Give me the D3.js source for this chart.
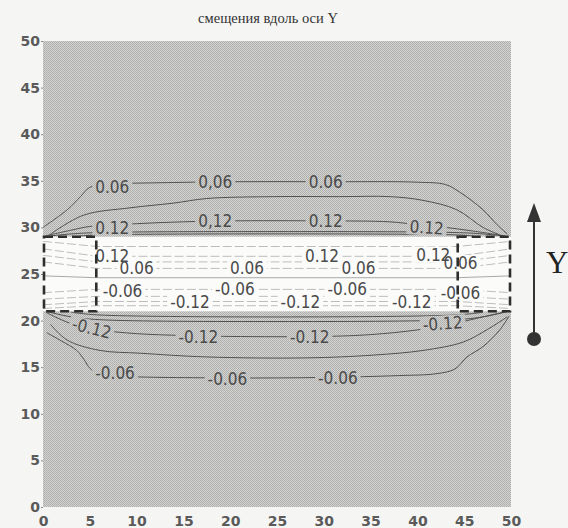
<!DOCTYPE html>
<html>
<head>
<meta charset="utf-8">
<script src="https://cdnjs.cloudflare.com/ajax/libs/d3/7.8.5/d3.min.js"></script>
<style>
  body { margin: 0; background: #f5f5f3; }
  svg { display: block; }
</style>
</head>
<body>
<script>
// ticks on both axes
var xTicks = [0, 5, 10, 15, 20, 25, 30, 35, 40, 45, 50];
var yTicks = [0, 5, 10, 15, 20, 25, 30, 35, 40, 45, 50];

// the white band and the two dashed boxes at its ends
var bandY = [21, 29];
var boxX = [[0, 5.8], [44.2, 50]];

// contour lines outside the band, [x, y]
var top06 = [[0, 30.0], [2.6, 31.9], [4.0, 33.3], [5.0, 34.3], [7, 34.7], [10, 34.75], [20, 34.9], [30, 34.9], [40, 34.85], [43, 34.6], [44.5, 33.8], [47, 31.9], [48.5, 30.3], [49.6, 29.3]];
var top09 = [[0.7, 29.2], [4.3, 31.3], [9.3, 32.1], [13.9, 32.6], [17.5, 33.1], [24.6, 33.3], [31.7, 33.3], [37.1, 33.3], [40.6, 32.9], [44.2, 31.9], [47, 30.0], [48.8, 29.2]];
var top12 = [[0.3, 29.1], [3, 29.7], [5, 30.1], [10, 30.4], [15, 30.6], [20, 30.7], [30, 30.7], [37, 30.6], [40, 30.3], [43, 30.0], [46, 29.6], [49.3, 29.1]];
var top15 = [[0.5, 29.05], [3, 29.3], [6, 29.45], [25, 29.55], [44, 29.45], [47, 29.3], [49.5, 29.05]];
var top18 = [[4, 29.08], [6, 29.2], [44, 29.2], [46, 29.08]];
var bot15 = [[0.5, 20.95], [3, 20.4], [6, 20.1], [25, 19.9], [44, 20.1], [47, 20.4], [49.5, 20.95]];
var bot18 = [[3, 20.9], [6, 20.6], [44, 20.6], [47, 20.9]];
var bot12 = [[0.3, 20.9], [1.5, 20.3], [3.5, 19.5], [6, 19.0], [10, 18.6], [15, 18.4], [20, 18.3], [30, 18.3], [35, 18.5], [40, 19.0], [44, 19.7], [47, 20.4], [49.5, 20.95]];
var bot09 = [[0.8, 19.6], [2.6, 17.9], [6.1, 16.8], [10.4, 16.5], [17.5, 16.1], [28.2, 16.0], [35.3, 16.3], [40.6, 16.8], [44.9, 17.7], [47.4, 19.0], [49.6, 20.4]];
var bot06 = [[0.4, 18.7], [2.0, 17.8], [3.6, 16.8], [4.4, 15.8], [5.0, 14.9], [6.0, 14.3], [8, 14.05], [20, 13.85], [30, 13.9], [38, 14.1], [42, 14.3], [44, 14.8], [45.3, 16.1], [47, 17.2], [48.8, 19.0], [49.8, 20.5]];

// light lines inside the band: y at x = 0 and x = 50, and y between the boxes
var bandLineY0 = [28.5, 27.7, 27.0, 26.3, 24.8, 23.0, 22.3, 21.7, 21.3];
var bandLineYm = [27.95, 26.9, 26.3, 25.6, 24.6, 23.35, 22.6, 22.05, 21.6];

// contour labels
var labelText = ["0.06", "0,06", "0.06",
                 "0.12", "0,12", "0.12", "0.12",
                 "0.12", "0.06", "0.06", "0.12", "0.06", "0.12", "0.06",
                 "-0.06", "-0.06", "-0.06", "-0.06",
                 "-0.12", "-0.12", "-0.12",
                 "-0.12", "-0.12", "-0.12", "-0.12",
                 "-0.06", "-0.06", "-0.06"];
var labelX = [7.4, 18.4, 30.2,
              7.4, 18.4, 30.2, 41.0,
              7.4, 10.0, 21.8, 29.8, 33.7, 41.7, 44.6,
              8.5, 20.5, 32.5, 44.6,
              15.7, 27.5, 39.4,
              5.2, 16.6, 28.5, 42.7,
              7.7, 19.7, 31.5];
var labelY = [34.3, 34.9, 34.9,
              29.9, 30.7, 30.7, 30.0,
              26.9, 25.7, 25.7, 26.9, 25.7, 27.1, 26.2,
              23.2, 23.4, 23.4, 23.0,
              22.0, 22.0, 22.0,
              19.2, 18.3, 18.3, 19.7,
              14.4, 13.8, 13.9];
var labelRot = [0, 0, 0,
                0, 0, 0, 4,
                0, 0, 0, 0, 0, 0, 0,
                0, 0, 0, 0,
                0, 0, 0,
                14, 0, 0, -4,
                0, 0, 0];

var W = 568, H = 528;
var m = {left: 43, top: 41, right: 57, bottom: 21};

var x = d3.scaleLinear().domain([0, 50]).range([m.left, W - m.right]);
var y = d3.scaleLinear().domain([0, 50]).range([H - m.bottom, m.top]);

var svg = d3.select("body").append("svg").attr("width", W).attr("height", H);
var defs = svg.append("defs");

// halftone look of the scanned grey fill
var pat = defs.append("pattern").attr("id", "tone").attr("patternUnits", "userSpaceOnUse")
  .attr("width", 2).attr("height", 2);
pat.append("rect").attr("width", 2).attr("height", 2).attr("fill", "#d4d4d2");
pat.append("rect").attr("width", 1).attr("height", 1).attr("fill", "#acacaa");
pat.append("rect").attr("x", 1).attr("y", 1).attr("width", 1).attr("height", 1).attr("fill", "#b2b2b0");

// title
svg.append("text").attr("x", 268).attr("y", 23).attr("text-anchor", "middle")
  .style("font-family", "Liberation Serif, serif").style("font-size", "14.5px").style("fill", "#333")
  .text("смещения вдоль оси Y");

// grey field and the white band
svg.append("rect").attr("x", x(0)).attr("y", y(50)).attr("width", x(50) - x(0)).attr("height", y(0) - y(50))
  .attr("fill", "url(#tone)");
svg.append("rect").attr("x", x(0)).attr("y", y(bandY[1])).attr("width", x(50) - x(0)).attr("height", y(bandY[0]) - y(bandY[1]))
  .attr("fill", "#fbfbfa");

// axes
var axisFont = function(g) {
  g.select(".domain").remove();
  g.selectAll(".tick line").attr("stroke", "#888");
  g.selectAll(".tick text").style("font-family", "DejaVu Sans, sans-serif").style("font-weight", "bold")
    .style("font-size", "14px").style("fill", "#5a5a5a");
};
svg.append("g").attr("transform", "translate(" + x(0) + ",0)")
  .call(d3.axisLeft(y).tickValues(yTicks).tickSize(2).tickPadding(1))
  .call(axisFont);
svg.append("g").attr("transform", "translate(0," + y(0) + ")")
  .call(d3.axisBottom(x).tickValues(xTicks).tickSize(0).tickPadding(9))
  .call(axisFont);

// labels first, so their boxes can cut the lines
var labG = svg.append("g");
var labels = labG.selectAll("text").data(labelText).enter().append("text")
  .attr("transform", function(d, i) {
    return "translate(" + x(labelX[i]) + "," + y(labelY[i]) + ") rotate(" + labelRot[i] + ")";
  })
  .attr("text-anchor", "middle").attr("dy", "0.36em")
  .style("font-family", "DejaVu Sans Condensed, DejaVu Sans, sans-serif").style("font-size", "17px")
  .style("fill", "#4a4a4a")
  .text(function(d) { return d; });

var mask = defs.append("mask").attr("id", "cut").attr("maskUnits", "userSpaceOnUse")
  .attr("x", 0).attr("y", 0).attr("width", W).attr("height", H);
mask.append("rect").attr("width", W).attr("height", H).attr("fill", "white");
labels.each(function(d, i) {
  var b = this.getBBox();
  mask.append("rect").attr("transform", d3.select(this).attr("transform"))
    .attr("x", b.x - 3).attr("y", b.y + 2).attr("width", b.width + 6).attr("height", b.height - 4)
    .attr("fill", "black");
});

var line = d3.line().x(function(d) { return x(d[0]); }).y(function(d) { return y(d[1]); })
  .curve(d3.curveCatmullRom.alpha(0.5));

var lineG = svg.insert("g", function() { return labG.node(); }).attr("mask", "url(#cut)");

// band lines, fanned inside the end boxes
var bandLines = bandLineY0.map(function(v, i) {
  var c = bandLineYm[i];
  return [[0, v], [boxX[0][1], c], [25, c], [boxX[1][0], c], [50, v]];
});
lineG.selectAll(".band").data(bandLines).enter().append("path")
  .attr("d", d3.line().x(function(d) { return x(d[0]); }).y(function(d) { return y(d[1]); }))
  .attr("fill", "none").attr("stroke", function(d, i) { return i == 4 ? "#a8a8a8" : "#bdbdbd"; })
  .attr("stroke-width", 1).attr("stroke-dasharray", function(d, i) { return i == 4 ? null : "9,3"; });

// contours in the grey part
var outer = [top06, top09, top12, top15, top18, bot15, bot18, bot12, bot09, bot06];
lineG.selectAll(".cont").data(outer).enter().append("path")
  .attr("d", line).attr("fill", "none").attr("stroke", "#505050").attr("stroke-width", 1);

// dashed end boxes
var dashG = svg.append("g").attr("fill", "none").attr("stroke", "#2e2e2e")
  .attr("stroke-width", 2.6).attr("stroke-dasharray", "9,5");
boxX.forEach(function(bx) {
  dashG.append("rect").attr("x", x(bx[0]) + 1).attr("y", y(bandY[1]))
    .attr("width", x(bx[1]) - x(bx[0]) - 2).attr("height", y(bandY[0]) - y(bandY[1]));
});

// direction arrow
var ax = 534;
svg.append("line").attr("x1", ax).attr("x2", ax).attr("y1", 338).attr("y2", 218)
  .attr("stroke", "#333").attr("stroke-width", 2);
svg.append("path").attr("d", "M" + ax + ",203 L" + (ax - 7) + ",222 L" + (ax + 7) + ",222 Z").attr("fill", "#333");
svg.append("circle").attr("cx", ax).attr("cy", 339).attr("r", 7).attr("fill", "#333");
svg.append("text").attr("x", 546).attr("y", 273)
  .style("font-family", "Liberation Serif, serif").style("font-size", "31px").style("fill", "#222")
  .text("Y");
</script>
</body>
</html>
